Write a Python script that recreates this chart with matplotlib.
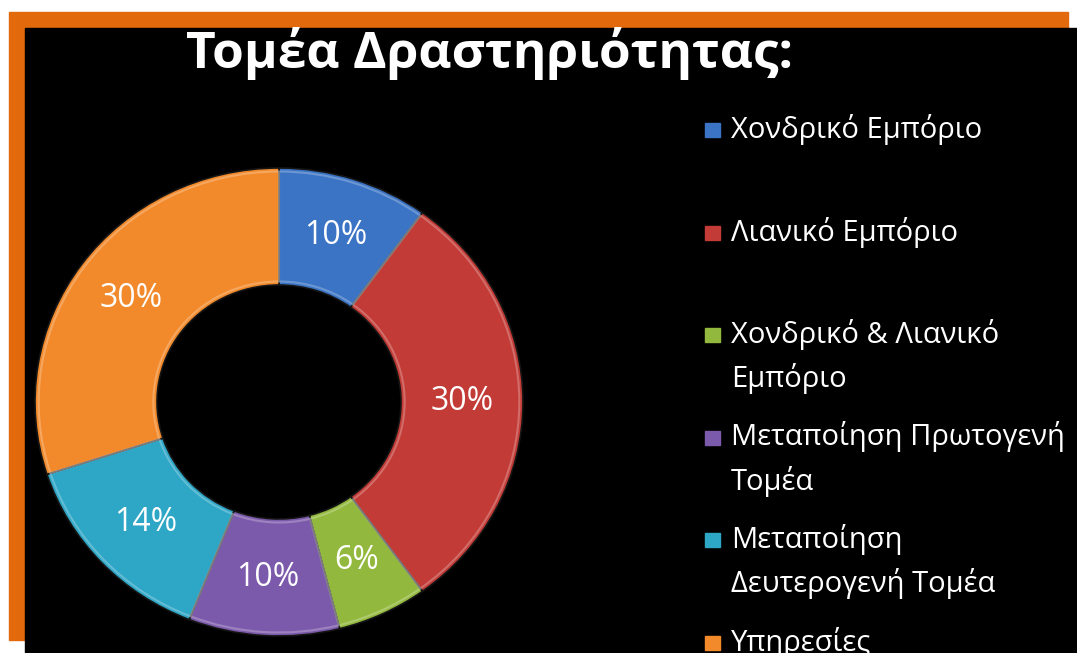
import matplotlib
matplotlib.use("Agg")
import matplotlib.pyplot as plt
from matplotlib.patches import Rectangle
import numpy as np

plt.rcParams['font.family'] = ['Open Sans', 'DejaVu Sans']

# activity sectors and their shares (%)
sectors = ["Χονδρικό Εμπόριο", "Λιανικό Εμπόριο", "Χονδρικό & Λιανικό\nΕμπόριο",
           "Μεταποίηση Πρωτογενή\nΤομέα", "Μεταποίηση\nΔευτερογενή Τομέα", "Υπηρεσίες"]
shares = [10, 30, 6, 10, 14, 30]
colors = ["#3b74c4", "#c23b36", "#92b93d", "#7c5aab", "#2ea6c6", "#f28a2c"]
title = "Τομέα Δραστηριότητας:"

W, H = 1077, 653
fig = plt.figure(figsize=(W / 100, H / 100), dpi=100)
fig.patch.set_facecolor("white")


def box(x, y, w, h):
    # pixel box (top-left origin) -> figure fraction
    return (x / W, 1 - (y + h) / H), w / W, h / H


# orange frame and black slide panel
xy, w, h = box(9, 12, 1059, 628)
fig.add_artist(Rectangle(xy, w, h, transform=fig.transFigure, color="#e2690c", zorder=0))
xy, w, h = box(25, 28, 1060, 630)
fig.add_artist(Rectangle(xy, w, h, transform=fig.transFigure, color="black", zorder=1))

fig.text(490 / W, 1 - 54 / H, title, color="white", fontsize=37, fontweight="bold",
         ha="center", va="center", zorder=3)

# donut
cx, cy, rx, ry = 279, 402, 244, 234
ax = fig.add_axes([(cx - rx) / W, 1 - (cy + ry) / H, 2 * rx / W, 2 * ry / H])
ax.set_zorder(2)
ax.patch.set_alpha(0)
wedges, _ = ax.pie(shares, colors=colors, startangle=90, counterclock=False, radius=1,
                   wedgeprops=dict(width=0.5, edgecolor="#151515", linewidth=1.2))
# soft highlight on the rims for a bevelled look
ax.pie(shares, colors=["none"] * len(shares), startangle=90, counterclock=False, radius=0.985,
       wedgeprops=dict(width=0.47, edgecolor=(1, 1, 1, 0.25), linewidth=1.5))
ax.set_aspect("auto")
ax.set_xlim(-1, 1)
ax.set_ylim(-1, 1)

start = 90.0
for val in shares:
    mid = np.deg2rad(start - val * 360 / 100 / 2)
    ax.text(0.75 * np.cos(mid), 0.75 * np.sin(mid), f"{val}%", color="white",
            fontsize=23, ha="center", va="center")
    start -= val * 360 / 100

# legend
y0, step = 130, 102.5
for i, (name, col) in enumerate(zip(sectors, colors)):
    y = y0 + i * step
    xy, w, h = box(705, y - 7, 15, 14)
    fig.add_artist(Rectangle(xy, w, h, transform=fig.transFigure, color=col, zorder=3))
    fig.text(731 / W, 1 - (y - 16) / H, name, color="white", fontsize=21,
             ha="left", va="top", linespacing=1.55, zorder=3)

fig.savefig("out.png", dpi=100, facecolor=fig.get_facecolor())
